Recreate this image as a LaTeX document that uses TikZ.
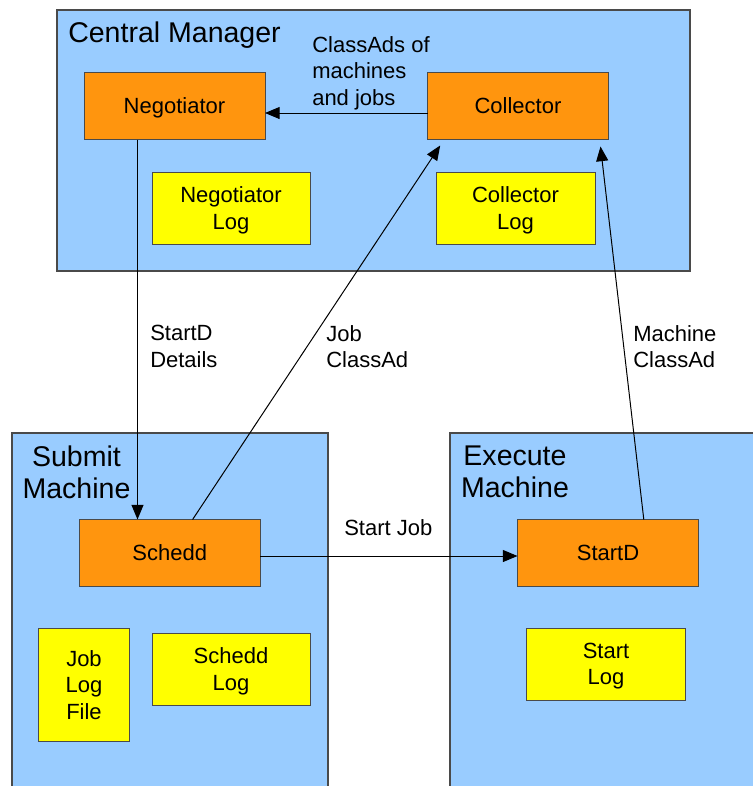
\documentclass[tikz,border=0pt]{standalone}
\usepackage{fontspec}
\setmainfont{Liberation Sans}
\usetikzlibrary{arrows.meta,calc}
\definecolor{cmblue}{HTML}{99CCFF}
\definecolor{dorange}{HTML}{FF950E}
\definecolor{lyellow}{HTML}{FFFF00}
\definecolor{edgegray}{HTML}{4A4A4A}
\begin{document}
\begin{tikzpicture}[x=0.75pt,y=-0.75pt,
  region/.style={draw=edgegray, line width=0.9pt, fill=cmblue, anchor=north west, inner sep=0pt, outer sep=0pt},
  daemon/.style={draw=edgegray, line width=0.75pt, fill=dorange, inner sep=0pt, outer sep=0pt, font=\fontsize{16.5}{19.9}\selectfont, align=center, text depth=0pt, minimum width=135.75pt, minimum height=50.25pt},
  logbox/.style={draw=edgegray, line width=0.75pt, fill=lyellow, inner sep=0pt, outer sep=0pt, font=\fontsize{16.5}{19.9}\selectfont, align=center, text depth=0pt},
  title/.style={font=\fontsize{21.4}{23.8}\selectfont, inner sep=0pt, align=center},
  lbl/.style={font=\fontsize{16.5}{19.9}\selectfont, inner sep=0pt, align=left, anchor=north west},
  arr/.style={-{Triangle[length=11pt,width=9pt]}, line width=0.75pt, draw=black}
]
\useasboundingbox (0,0) rectangle (753,786);
\clip (0,0) rectangle (753,786);

% regions
\node[region, minimum width=474.75pt, minimum height=195.75pt] (cm) at (57,10) {};
\node[region, minimum width=237pt, minimum height=275.25pt] (sub) at (12,433) {};
\node[region, minimum width=240pt, minimum height=275.25pt] (exe) at (450,433) {};

% titles
\node[title, anchor=base west] (cmt) at (68,42) {Central Manager};
\node[title, anchor=north] (subt) at (76.5,445.5) {Submit\\Machine};
\node[title, anchor=north] (exet) at (515,446) {Execute\\Machine};

% daemons
\node[daemon] (neg) at (174.5,106) {Negotiator};
\node[daemon] (coll) at (518,106) {Collector};
\node[daemon] (sched) at (169.7,553) {Schedd};
\node[daemon] (startd) at (608,553) {StartD};

% logs
\node[logbox, minimum width=118.5pt, minimum height=54pt] (neglog) at (231,208) {Negotiator\\Log};
\node[logbox, minimum width=119.25pt, minimum height=54pt] (colllog) at (515.5,208) {Collector\\Log};
\node[logbox, minimum width=68.25pt, minimum height=84.75pt] (joblog) at (84,684.7) {Job\\Log\\File};
\node[logbox, minimum width=118.5pt, minimum height=54pt] (schedlog) at (231,669) {Schedd\\Log};
\node[logbox, minimum width=119.25pt, minimum height=54pt] (startlog) at (606,664) {Start\\Log};

% connectors
\draw[arr] ($(coll.west)+(0,7)$) -- ($(neg.east)+(0,7)$);
\draw[arr] ($(neg.south west)+(53.5,0)$) coordinate (nd) -- (nd |- sched.north);
\draw[arr] ($(sched.north west)+(113.4,0)$) -- ($(coll.south west)+(12.7,6)$);
\draw[arr] ($(startd.north west)+(126.3,0)$) -- ($(coll.south east)+(-8,7)$);
\draw[arr] ($(sched.east)+(0,3)$) -- ($(startd.west)+(0,3)$);

% labels
\node[lbl] (l1) at (312,36) {ClassAds of\\machines\\and jobs};
\node[lbl] (l2) at (150,325) {StartD\\Details};
\node[lbl] (l3) at (326,325) {Job\\ClassAd};
\node[lbl] (l4) at (633,325) {Machine\\ClassAd};
\node[lbl] (l5) at (344,519) {Start Job};
\end{tikzpicture}
\end{document}
